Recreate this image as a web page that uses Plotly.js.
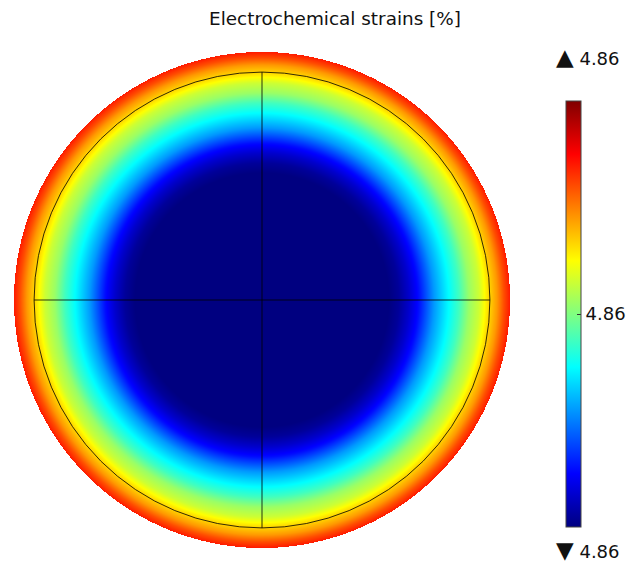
<!DOCTYPE html>
<html>
<head>
<meta charset="utf-8">
<script src="https://cdn.plot.ly/plotly-3.0.1.min.js"></script>
<style>html,body{margin:0;padding:0;background:#fff;}#chart{width:632px;height:562px;}</style>
</head>
<body>
<div id="chart"></div>
<script>
// Radial profile (r normalised by the outer radius)
const radiusNorm = [0, 0.512, 0.552, 0.593, 0.633, 0.694, 0.746, 0.794, 0.835, 0.875, 0.915, 0.948, 0.976, 1.0];
const strainPct  = [4.8560, 4.8560, 4.8562, 4.8566, 4.8571, 4.8582, 4.8589, 4.8595, 4.8602, 4.8606, 4.8613, 4.8618, 4.8624, 4.8628];
// Colour range of the legend
const colorMin = 4.8560;
const colorMax = 4.8640;
const colorTicks = [4.86];
const titleText = 'Electrochemical strains [%]';

// Build the display grid from the radial profile
function profileAt(r) {
  if (r > 1) return null;
  for (let i = 1; i < radiusNorm.length; i++) {
    if (r <= radiusNorm[i]) {
      const t = (r - radiusNorm[i-1]) / (radiusNorm[i] - radiusNorm[i-1]);
      return strainPct[i-1] + t * (strainPct[i] - strainPct[i-1]);
    }
  }
  return strainPct[strainPct.length-1];
}
const N = 496;
const gx = [], gy = [], gz = [];
for (let i = 0; i < N; i++) { gx.push(-1 + (i + 0.5) * 2 / N); gy.push(-1 + (i + 0.5) * 2 / N); }
for (let j = 0; j < N; j++) {
  const row = [];
  for (let i = 0; i < N; i++) row.push(profileAt(Math.sqrt(gx[i]*gx[i] + gy[j]*gy[j])));
  gz.push(row);
}

const jet = [[0,'rgb(0,0,128)'],[0.125,'rgb(0,0,255)'],[0.375,'rgb(0,255,255)'],[0.5,'rgb(128,255,128)'],[0.625,'rgb(255,255,0)'],[0.875,'rgb(255,0,0)'],[1,'rgb(128,0,0)']];

const font = {family: 'DejaVu Sans', color: '#111'};
const ri = 0.919; // inner boundary circle
// pixel helpers for the plot area (l=14, t=52, 496x496)
const px = v => (v - 14) / 496;
const py = v => (548 - v) / 496;

const trace = {
  type: 'heatmap', x: gx, y: gy, z: gz,
  zmin: colorMin, zmax: colorMax, zsmooth: false,
  colorscale: jet, hoverinfo: 'skip',
  colorbar: {
    xref: 'paper', x: px(566), xanchor: 'left', xpad: 0,
    yref: 'paper', y: py(314), yanchor: 'middle', ypad: 0,
    len: 426, lenmode: 'pixels', thickness: 15, thicknessmode: 'pixels',
    outlinewidth: 1, outlinecolor: '#444',
    tickvals: colorTicks, tickformat: '.2f', ticks: 'inside', ticklen: 4, tickcolor: '#333',
    tickfont: {family: 'DejaVu Sans', size: 18, color: '#111'}
  }
};

const tri = s => '<span style="font-size:23px">' + s + '</span>';

const layout = {
  width: 632, height: 562,
  margin: {l: 14, r: 122, t: 52, b: 14, autoexpand: false},
  paper_bgcolor: '#fff', plot_bgcolor: '#fff',
  font: font,
  title: {text: titleText, font: {family: 'DejaVu Sans', size: 18.4, color: '#111'},
          xref: 'container', x: 335/632, xanchor: 'center', yref: 'container', y: 1 - 19/562, yanchor: 'middle'},
  xaxis: {range: [-1, 1], visible: false, fixedrange: true},
  yaxis: {range: [-1, 1], visible: false, fixedrange: true},
  shapes: [
    {type: 'circle', xref: 'x', yref: 'y', x0: -ri, x1: ri, y0: -ri, y1: ri, line: {color: 'rgba(0,0,0,0.8)', width: 1}},
    {type: 'line', xref: 'x', yref: 'y', x0: -ri, x1: ri, y0: 0, y1: 0, line: {color: 'rgba(0,0,0,0.8)', width: 1}},
    {type: 'line', xref: 'x', yref: 'y', x0: 0, x1: 0, y0: -ri, y1: ri, line: {color: 'rgba(0,0,0,0.8)', width: 1}},
    {type: 'line', xref: 'paper', yref: 'paper', x0: px(566), x1: px(570), y0: py(313.5), y1: py(313.5), line: {color: '#333', width: 1}}
  ],
  annotations: [
    {xref: 'paper', yref: 'paper', x: px(554), y: py(57), xanchor: 'left', yanchor: 'middle', showarrow: false,
     text: tri('\u25B2') + ' ' + colorMax.toFixed(2), font: {family: 'DejaVu Sans', size: 18, color: '#111'}},
    {xref: 'paper', yref: 'paper', x: px(554), y: py(550), xanchor: 'left', yanchor: 'middle', showarrow: false,
     text: tri('\u25BC') + ' ' + colorMin.toFixed(2), font: {family: 'DejaVu Sans', size: 18, color: '#111'}}
  ]
};

Plotly.newPlot('chart', [trace], layout, {staticPlot: true, displayModeBar: false});
</script>
</body>
</html>
